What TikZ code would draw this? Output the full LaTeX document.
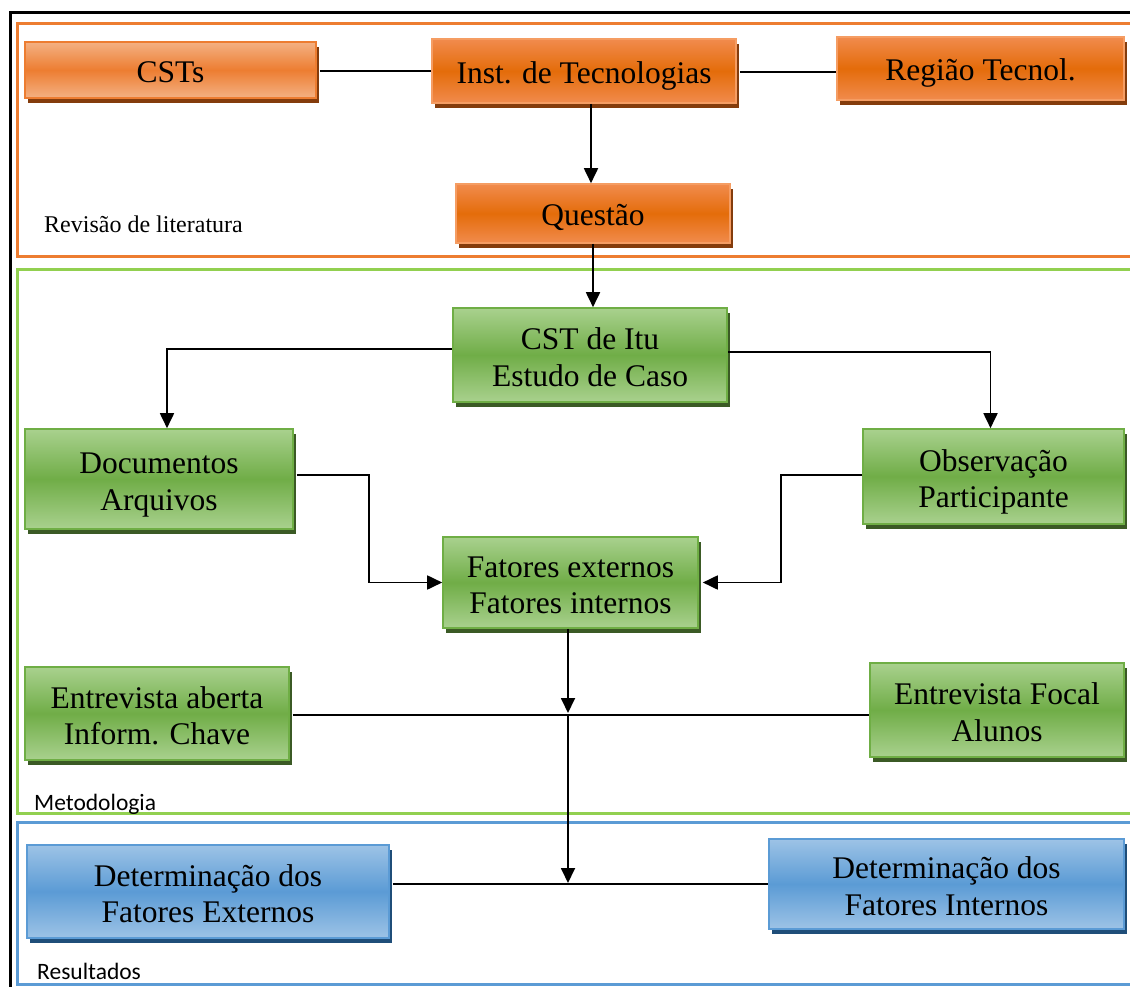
\documentclass[tikz,border=0pt]{standalone}
\usepackage{fontspec}
\setmainfont{Liberation Serif}
\newfontfamily\calibfont{Carlito}
\usetikzlibrary{arrows.meta,shadows,calc}
\definecolor{orLight}{HTML}{F18B4D}
\definecolor{orMid}{HTML}{E46C0A}
\definecolor{orPale}{HTML}{F4B183}
\definecolor{orMid2}{HTML}{ED7D31}
\definecolor{orBorder}{HTML}{F59D63}
\definecolor{orShadow}{HTML}{843C0C}
\definecolor{grLight}{HTML}{A9D18E}
\definecolor{grMid}{HTML}{70AD47}
\definecolor{grBorder}{HTML}{6FAE45}
\definecolor{grShadow}{HTML}{3B5A25}
\definecolor{blLight}{HTML}{9DC3E6}
\definecolor{blMid}{HTML}{5B9BD5}
\definecolor{blBorder}{HTML}{5B9BD5}
\definecolor{blShadow}{HTML}{1F4E79}
\definecolor{frOrange}{HTML}{ED7D31}
\definecolor{frGreen}{HTML}{92D050}
\definecolor{frBlue}{HTML}{5B9BD5}
\begin{document}
\begin{tikzpicture}[x=1pt,y=-1pt,
  box/.style={draw, line width=1.6pt, inner sep=0pt, align=center,
    font=\fontsize{31.5}{36.5}\selectfont},
  oneline/.style={text height=31.8pt, text depth=7pt},
  twoline/.style={text height=69pt, text depth=7pt},
  orangebox/.style={box, draw=orBorder, top color=orLight, bottom color=orLight, middle color=orMid,
    general shadow={fill=orShadow, shadow xshift=3pt, shadow yshift=-5pt}},
  orangepale/.style={box, draw=orMid2, top color=orPale, bottom color=orPale, middle color=orMid2,
    general shadow={fill=orShadow, shadow xshift=3pt, shadow yshift=-5pt}},
  greenbox/.style={box, draw=grBorder, top color=grLight, bottom color=grLight, middle color=grMid,
    general shadow={fill=grShadow, shadow xshift=3pt, shadow yshift=-5pt}},
  bluebox/.style={box, draw=blBorder, top color=blLight, bottom color=blLight, middle color=blMid,
    general shadow={fill=blShadow, shadow xshift=3pt, shadow yshift=-5pt}},
  conn/.style={line width=1.8pt, black},
  arr/.style={conn, -{Triangle[length=15pt,width=14pt]}},
  frame/.style={line width=3pt},
  serlabel/.style={anchor=base west, inner sep=0pt, font=\fontsize{24}{28}\selectfont},
  sanlabel/.style={anchor=base west, inner sep=0pt, font=\calibfont\fontsize{23.5}{28}\selectfont}
]
\clip (0,0) rectangle (1130,987);
\fill[white] (0,0) rectangle (1130,987);

% frames
\draw[frame, black] (10,13) rectangle (1145,1000);
\draw[frame, frOrange] (17,23.5) rectangle (1140,257);
\draw[frame, frGreen] (17,269) rectangle (1140,813);
\draw[frame, frBlue] (17,822) rectangle (1140,984);

% labels
\node[serlabel] (lrev) at (44,233) {Revisão de literatura};
\node[sanlabel] (lmet) at (34,810) {Metodologia};
\node[sanlabel] (lres) at (37,979) {Resultados};

% boxes
\node[orangepale, oneline, minimum width=291pt, minimum height=56pt] (csts) at (170.5,70) {CSTs};
\node[orangebox, oneline, minimum width=304pt, minimum height=64pt] (inst) at (584,71) {Inst. de Tecnologias};
\node[orangebox, oneline, minimum width=287pt, minimum height=63pt] (regiao) at (980.5,68.5) {Região Tecnol.};
\node[orangebox, oneline, minimum width=274pt, minimum height=59pt] (questao) at (593,213.5) {Questão};

\node[greenbox, twoline, minimum width=274pt, minimum height=94pt] (cstitu) at (590,355) {CST de Itu\\Estudo de Caso};
\node[greenbox, twoline, minimum width=268pt, minimum height=100pt] (docs) at (159,479) {Documentos\\Arquivos};
\node[greenbox, twoline, minimum width=261pt, minimum height=95pt] (obs) at (993.5,476.5) {Observação\\Participante};
\node[greenbox, twoline, minimum width=255pt, minimum height=91pt] (fatores) at (570.5,582.5) {Fatores externos\\Fatores internos};
\node[greenbox, twoline, minimum width=264pt, minimum height=93pt] (entab) at (157,713.5) {Entrevista aberta\\Inform. Chave};
\node[greenbox, twoline, minimum width=254pt, minimum height=94pt] (entfoc) at (997,710) {Entrevista Focal\\Alunos};

\node[bluebox, twoline, minimum width=362pt, minimum height=93pt] (detext) at (208,891.5) {Determinação dos\\Fatores Externos};
\node[bluebox, twoline, minimum width=355pt, minimum height=90pt] (detint) at (946.5,884) {Determinação dos\\Fatores Internos};

% junction points
\coordinate (j1) at (568,715);
\coordinate (j2) at (568,884);

% connectors
\draw[conn] ([xshift=3pt]csts.east |- 0,71) -- (inst.west |- 0,71);
\draw[conn] ([xshift=3pt]inst.east |- 0,72) -- (regiao.west |- 0,72);
\draw[arr] (inst.south -| 591,0) -- (questao.north -| 591,0);
\draw[arr] (questao.south -| 593,0) -- (cstitu.north -| 593,0);
\draw[arr] ([yshift=6pt]cstitu.west) -| ([xshift=8pt]docs.north);
\draw[arr] ([yshift=3pt]cstitu.east) -| ([xshift=-3pt]obs.north);
\draw[arr] ([yshift=4pt,xshift=3pt]docs.east) -- ++(72,0) |- (fatores.west);
\draw[arr] ([yshift=1.5pt]obs.west) -- ++(-81,0) |- ([xshift=4pt]fatores.east);
\draw[arr] (fatores.south -| j1) -- ([yshift=2pt]j1);
\draw[conn] ([xshift=3pt]entab.east |- j1) -- (entfoc.west |- j1);
\draw[arr] (j1) -- ([yshift=1pt]j2);
\draw[conn] ([xshift=3pt]detext.east |- j2) -- (detint.west |- j2);
\end{tikzpicture}
\end{document}
